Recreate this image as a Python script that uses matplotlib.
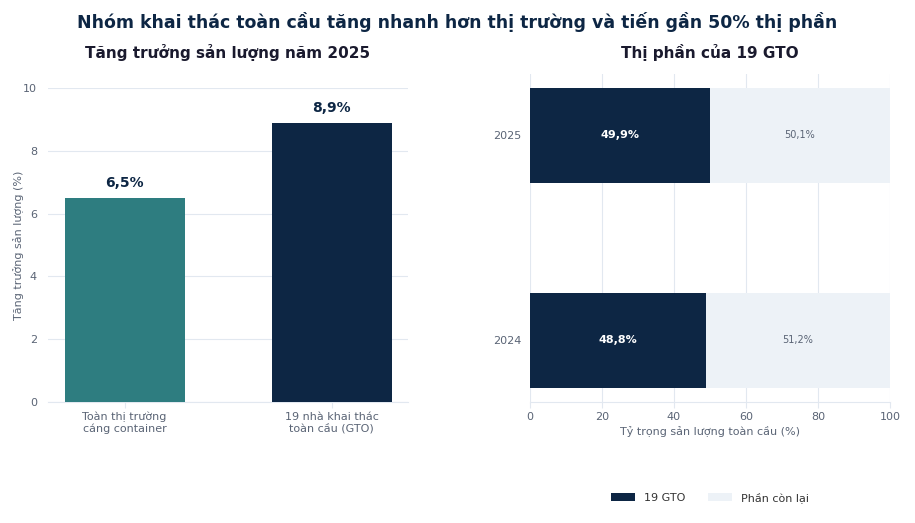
import numpy as np
import matplotlib
matplotlib.use('Agg')
import matplotlib.pyplot as plt

# data
growth_labels = ['Toàn thị trường\ncáng container', '19 nhà khai thác\ntoàn cầu (GTO)']
growth_values = [6.5, 8.9]
years = ['2024', '2025']
gto_share = [48.8, 49.9]
rest_share = [51.2, 50.1]

NAVY = '#0d2644'
TEAL = '#2e7d80'
LIGHT = '#edf2f7'
GRID = '#e2e8f0'
TXT = '#5a6475'

plt.rcParams['font.family'] = ['DejaVu Sans']

fig = plt.figure(figsize=(9.15, 5.23), dpi=100)
fig.text(0.5, 0.958, 'Nhóm khai thác toàn cầu tăng nhanh hơn thị trường và tiến gần 50% thị phần',
         ha='center', va='center', fontsize=12.5, fontweight='bold', color=NAVY)

# left: growth
ax1 = fig.add_axes([0.0525, 0.2314, 0.3935, 0.6003])
x = np.arange(len(growth_values))
ax1.bar(x, growth_values, width=0.58, color=[TEAL, NAVY], zorder=3)
for xi, v in zip(x, growth_values):
    ax1.text(xi, v + 0.25, f'{v:.1f}'.replace('.', ',') + '%', ha='center', va='bottom',
             fontsize=10, fontweight='bold', color=NAVY)
ax1.set_xlim(-0.37, 1.37)
ax1.set_ylim(0, 10)
ax1.set_yticks([0, 2, 4, 6, 8, 10])
ax1.set_xticks(x)
ax1.set_xticklabels(growth_labels, fontsize=8, color=TXT)
ax1.tick_params(axis='y', length=0, labelsize=8, labelcolor=TXT, pad=8)
ax1.tick_params(axis='x', length=4, color=GRID, pad=3)
ax1.grid(axis='y', color=GRID, linewidth=0.8, zorder=0)
for s in ['top', 'right', 'left']:
    ax1.spines[s].set_visible(False)
ax1.spines['bottom'].set_color(GRID)
ax1.set_ylabel('Tăng trưởng sản lượng (%)', fontsize=8, color=TXT, labelpad=-1)
fig.text(0.249, 0.899, 'Tăng trưởng sản lượng năm 2025', ha='center', va='center',
         fontsize=11, fontweight='bold', color='#1a1a2e')

# right: market share
ax2 = fig.add_axes([0.5792, 0.2314, 0.3935, 0.6271])
y = np.arange(len(years))
ax2.barh(y, gto_share, height=0.46, color=NAVY, label='19 GTO', zorder=3)
ax2.barh(y, rest_share, left=gto_share, height=0.46, color=LIGHT, label='Phần còn lại', zorder=3)
for yi, g, r in zip(y, gto_share, rest_share):
    ax2.text(g / 2, yi, f'{g:.1f}'.replace('.', ',') + '%', ha='center', va='center',
             fontsize=8, fontweight='bold', color='white', zorder=4)
    ax2.text(g + r / 2, yi, f'{r:.1f}'.replace('.', ',') + '%', ha='center', va='center',
             fontsize=7, color=TXT, zorder=4)
ax2.set_xlim(0, 100)
ax2.set_ylim(-0.3, 1.3)
ax2.set_yticks(y)
ax2.set_yticklabels(years)
ax2.set_xticks([0, 20, 40, 60, 80, 100])
ax2.tick_params(axis='y', length=0, labelsize=8, labelcolor=TXT, pad=6)
ax2.tick_params(axis='x', length=4, color=GRID, labelsize=8, labelcolor=TXT, pad=3)
ax2.grid(axis='x', color=GRID, linewidth=0.8, zorder=0)
for s in ['top', 'right', 'left']:
    ax2.spines[s].set_visible(False)
ax2.spines['bottom'].set_color(GRID)
ax2.set_xlabel('Tỷ trọng sản lượng toàn cầu (%)', fontsize=8, color=TXT, labelpad=3)
fig.text(0.776, 0.899, 'Thị phần của 19 GTO', ha='center', va='center',
         fontsize=11, fontweight='bold', color='#1a1a2e')
ax2.legend(loc='upper center', bbox_to_anchor=(0.5, -0.245), ncol=2, frameon=False,
           fontsize=8, labelcolor='#333333', handlelength=2.2, columnspacing=2.0)

fig.savefig('out.png', dpi=100)
